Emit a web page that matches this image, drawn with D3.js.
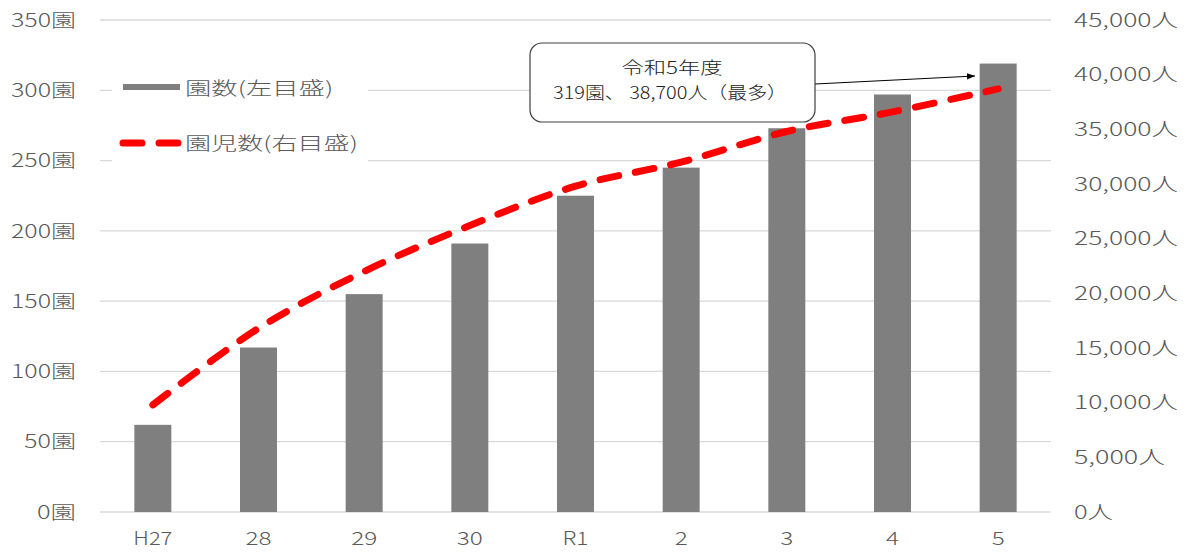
<!DOCTYPE html>
<html><head><meta charset="utf-8">
<script src="https://cdn.jsdelivr.net/npm/d3@7"></script>
<style>body{margin:0;background:#fff}svg{display:block}text{font-family:"Noto Sans CJK JP",sans-serif;font-weight:300}</style>
</head><body>
<svg id="c" width="1190" height="554"></svg>
<script>
const categories = ["H27","28","29","30","R1","2","3","4","5"];
const schools = [62,117,155,191,225,245,273,297,319];
const children = [9800,16800,22000,26200,29800,32000,34800,36600,38700];
const leftTicks = [0,50,100,150,200,250,300,350];
const rightTicks = [0,5000,10000,15000,20000,25000,30000,35000,40000,45000];

const svg = d3.select("#c");
const x = d3.scaleBand().domain(categories).range([100,1051]).paddingInner(0.65).paddingOuter(0.325);
const yL = d3.scaleLinear().domain([0,350]).range([512,20]);
const yR = d3.scaleLinear().domain([0,45000]).range([512,20]);
const txt = "#595959";

// width of a string in a wide gothic font (half-width ascii = 0.5em)
function wideLen(s, em){ let w=0; for(const c of s){ w += (c.charCodeAt(0)<256 ? 0.5 : 1); } return w*em; }
function stretch(sel, em){
  sel.attr("textLength", function(){ return wideLen(this.textContent, em); })
     .attr("lengthAdjust","spacingAndGlyphs");
}

// gridlines
svg.append("g").selectAll("line").data(leftTicks).join("line")
  .attr("x1",100).attr("x2",1051).attr("y1",d=>yL(d)).attr("y2",d=>yL(d))
  .attr("stroke","#d9d9d9").attr("stroke-width",1.3);

// left axis labels
svg.append("g").selectAll("text").data(leftTicks).join("text")
  .attr("x",76).attr("y",d=>yL(d)).attr("dy","0.36em").attr("text-anchor","end")
  .attr("fill",txt).attr("font-size",18.5).text(d=>d+"園").call(stretch,26);
// right axis labels
svg.append("g").selectAll("text").data(rightTicks).join("text")
  .attr("x",1074).attr("y",d=>yR(d)).attr("dy","0.36em").attr("text-anchor","start")
  .attr("fill",txt).attr("font-size",18.5).text(d=>d3.format(",")(d)+"人").call(stretch,26);
// x labels
svg.append("g").selectAll("text").data(categories).join("text")
  .attr("x",d=>x(d)+x.bandwidth()/2).attr("y",538).attr("dy","0.36em").attr("text-anchor","middle")
  .attr("fill",txt).attr("font-size",18.5).text(d=>d).call(stretch,26);

// bars
svg.append("g").selectAll("rect").data(schools).join("rect")
  .attr("x",(d,i)=>x(categories[i])).attr("width",x.bandwidth())
  .attr("y",d=>yL(d)).attr("height",d=>yL(0)-yL(d)).attr("fill","#7f7f7f");

// line
const line = d3.line().x((d,i)=>x(categories[i])+x.bandwidth()/2).y(d=>yR(d)).curve(d3.curveCatmullRom.alpha(0.5));
svg.append("path").attr("d",line(children)).attr("fill","none").attr("stroke","#ff0000")
  .attr("stroke-width",7).attr("stroke-linecap","round").attr("stroke-dasharray","19,17");

// legend
const lg = svg.append("g");
lg.append("rect").attr("x",112).attr("y",66).attr("width",256).attr("height",96).attr("fill","#fff");
lg.append("rect").attr("x",123).attr("y",84).attr("width",57).attr("height",6).attr("fill","#7f7f7f");
lg.append("text").attr("x",185).attr("y",88).attr("dy","0.36em").attr("fill",txt).attr("font-size",18.5).text("園数(左目盛)").call(stretch,24.7);
lg.append("line").attr("x1",123).attr("x2",181).attr("y1",143).attr("y2",143).attr("stroke","#ff0000")
  .attr("stroke-width",7).attr("stroke-linecap","round").attr("stroke-dasharray","19,17");
lg.append("text").attr("x",185).attr("y",143).attr("dy","0.36em").attr("fill",txt).attr("font-size",18.5).text("園児数(右目盛)").call(stretch,24.7);

// callout
svg.append("defs").append("marker").attr("id","ah").attr("viewBox","0 0 10 10").attr("refX",10).attr("refY",5)
  .attr("markerWidth",8).attr("markerHeight",8).attr("orient","auto-start-reverse")
  .append("path").attr("d","M0,1 L10,5 L0,9 z").attr("fill","#000");
svg.append("line").attr("x1",815).attr("y1",84).attr("x2",975).attr("y2",76).attr("stroke","#000").attr("stroke-width",1).attr("marker-end","url(#ah)");
svg.append("rect").attr("x",530).attr("y",43).attr("width",285).attr("height",79).attr("rx",12)
  .attr("fill","#fff").attr("stroke","#404040").attr("stroke-width",1.2);
svg.append("text").attr("x",672).attr("y",68).attr("dy","0.36em").attr("text-anchor","middle").attr("fill","#222").attr("font-size",17)
  .attr("textLength",101).attr("lengthAdjust","spacingAndGlyphs").text("令和5年度");
svg.append("text").attr("x",670).attr("y",93).attr("dy","0.36em").attr("text-anchor","middle").attr("fill","#222").attr("font-size",17)
  .attr("textLength",234).attr("lengthAdjust","spacingAndGlyphs").text("319園、 38,700人（最多）");
</script>
</body></html>
